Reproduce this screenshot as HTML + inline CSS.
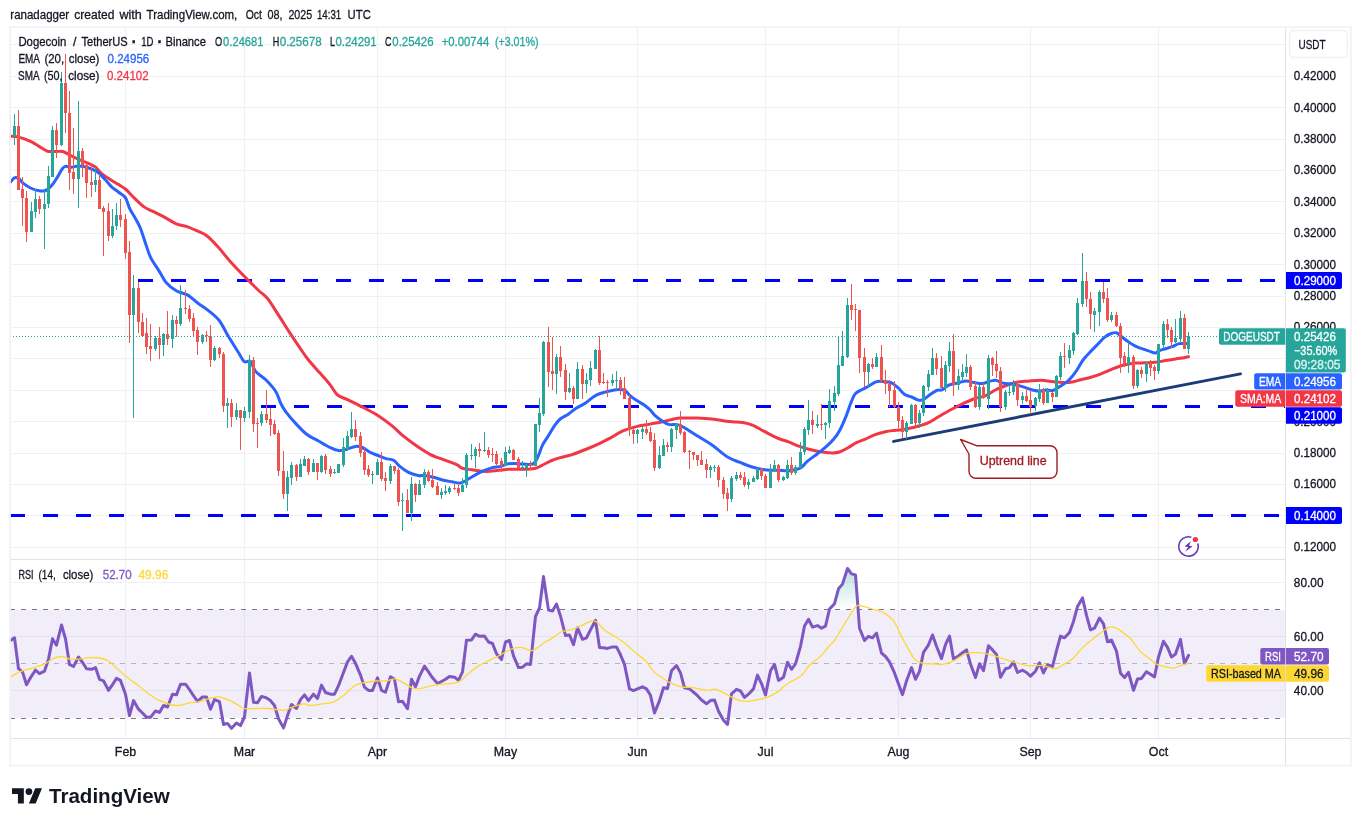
<!DOCTYPE html>
<html lang="en"><head><meta charset="utf-8"><title>DOGEUSDT chart</title>
<style>html,body{margin:0;padding:0;background:#fff;}svg{display:block}</style></head>
<body>
<svg width="1361" height="826" viewBox="0 0 1361 826" font-family='"Liberation Sans", "DejaVu Sans", sans-serif' font-size="12.4" fill="#131722">
<style>text{stroke-width:0.3px}</style>
<rect width="1361" height="826" fill="#fff"/>
<g shape-rendering="crispEdges" stroke="#f0f1f2" stroke-width="1">
<line x1="10" x2="1285" y1="44.5" y2="44.5"/>
<line x1="10" x2="1285" y1="76.5" y2="76.5"/>
<line x1="10" x2="1285" y1="107.5" y2="107.5"/>
<line x1="10" x2="1285" y1="139.5" y2="139.5"/>
<line x1="10" x2="1285" y1="170.5" y2="170.5"/>
<line x1="10" x2="1285" y1="201.5" y2="201.5"/>
<line x1="10" x2="1285" y1="233.5" y2="233.5"/>
<line x1="10" x2="1285" y1="264.5" y2="264.5"/>
<line x1="10" x2="1285" y1="296.5" y2="296.5"/>
<line x1="10" x2="1285" y1="327.5" y2="327.5"/>
<line x1="10" x2="1285" y1="358.5" y2="358.5"/>
<line x1="10" x2="1285" y1="390.5" y2="390.5"/>
<line x1="10" x2="1285" y1="421.5" y2="421.5"/>
<line x1="10" x2="1285" y1="453.5" y2="453.5"/>
<line x1="10" x2="1285" y1="484.5" y2="484.5"/>
<line x1="10" x2="1285" y1="515.5" y2="515.5"/>
<line x1="10" x2="1285" y1="547.5" y2="547.5"/>
<line x1="10" x2="1285" y1="582.5" y2="582.5"/>
<line x1="10" x2="1285" y1="636.5" y2="636.5"/>
<line x1="10" x2="1285" y1="690.5" y2="690.5"/>
<line x1="125.5" x2="125.5" y1="27" y2="738"/>
<line x1="244.5" x2="244.5" y1="27" y2="738"/>
<line x1="377.5" x2="377.5" y1="27" y2="738"/>
<line x1="505.5" x2="505.5" y1="27" y2="738"/>
<line x1="637.5" x2="637.5" y1="27" y2="738"/>
<line x1="765.5" x2="765.5" y1="27" y2="738"/>
<line x1="898.5" x2="898.5" y1="27" y2="738"/>
<line x1="1030.5" x2="1030.5" y1="27" y2="738"/>
<line x1="1158.5" x2="1158.5" y1="27" y2="738"/>
</g>
<rect x="10" y="610" width="1275" height="107.8" fill="#7e57c2" fill-opacity="0.1"/>
<g shape-rendering="crispEdges" fill="none" stroke-width="1" stroke-dasharray="5 6">
<line x1="10" x2="1282" y1="609.5" y2="609.5" stroke="#787b86"/>
<line x1="10" x2="1282" y1="663.5" y2="663.5" stroke="#787b86" stroke-opacity="0.5"/>
<line x1="10" x2="1282" y1="718.5" y2="718.5" stroke="#787b86"/>
</g>
<line x1="138" x2="1285" y1="280.5" y2="280.5" stroke="#0000ff" stroke-width="3" stroke-dasharray="15 18" shape-rendering="crispEdges"/>
<line x1="261" x2="1285" y1="406.5" y2="406.5" stroke="#0000ff" stroke-width="3" stroke-dasharray="15 18" shape-rendering="crispEdges"/>
<line x1="10" x2="1285" y1="515.5" y2="515.5" stroke="#0000ff" stroke-width="3" stroke-dasharray="15 18" shape-rendering="crispEdges"/>
<line x1="893.6" y1="441.4" x2="1240.5" y2="373.9" stroke="#1b3c78" stroke-width="3" stroke-linecap="round"/>
<path d="M10.5 136.3C11.8 136.4 15.3 136.2 18.6 137.1C21.9 137.9 27.1 139.8 30.5 141.4C33.9 143.0 36.2 144.8 39.0 146.4C41.8 148.0 44.7 150.3 47.5 151.2C50.3 152.0 53.4 151.4 55.9 151.5C58.4 151.6 60.4 150.9 62.7 151.5C65.0 152.1 67.0 153.6 69.5 154.9C72.0 156.2 75.2 157.9 78.0 159.2C80.8 160.5 83.6 161.2 86.4 162.5C89.2 163.8 92.4 165.0 94.9 166.8C97.5 168.7 99.2 171.5 101.7 173.6C104.2 175.7 107.4 177.7 110.2 179.5C113.0 181.3 116.1 183.0 118.6 184.6C121.1 186.2 122.9 186.8 125.4 189.0C128.0 191.2 130.8 194.6 133.9 197.6C137.0 200.6 141.0 204.6 144.1 206.9C147.2 209.2 149.1 209.5 152.5 211.2C155.9 212.9 160.4 215.0 164.4 217.1C168.4 219.2 172.6 222.3 176.3 223.9C180.0 225.5 183.0 225.3 186.4 226.4C189.8 227.5 193.2 229.1 196.6 230.7C200.0 232.3 203.1 233.0 206.8 235.8C210.5 238.6 214.7 243.4 218.6 247.6C222.5 251.8 225.8 256.5 230.0 261.2C234.2 265.9 239.3 271.2 244.0 276.0C248.7 280.8 254.2 286.2 258.1 290.0C262.0 293.8 264.2 294.6 267.5 298.5C270.8 302.4 273.9 308.1 277.6 313.7C281.3 319.3 285.8 326.8 289.5 332.4C293.2 338.0 296.6 343.1 299.7 347.6C302.8 352.1 304.7 355.2 308.1 359.5C311.5 363.8 316.3 368.9 320.0 373.1C323.7 377.3 327.3 381.2 330.2 384.9C333.1 388.5 334.5 392.5 337.6 395.0C340.7 397.5 344.5 398.1 348.6 400.1C352.7 402.1 357.4 404.4 362.2 406.9C367.0 409.4 372.4 412.1 377.5 415.3C382.6 418.6 388.5 423.0 392.7 426.4C396.9 429.8 398.9 432.5 402.9 435.7C406.8 438.9 411.9 442.7 416.4 445.8C420.9 448.9 425.5 452.0 430.0 454.3C434.5 456.6 439.1 458.0 443.6 459.7C448.1 461.4 453.8 463.3 456.8 464.7C459.9 466.1 459.4 467.2 461.9 468.1C464.4 469.0 467.8 469.2 472.0 469.8C476.2 470.4 481.4 471.6 487.3 471.5C493.2 471.4 501.7 469.7 507.6 469.3C513.5 468.9 518.4 469.4 522.9 469.3C527.4 469.2 531.6 469.1 534.7 468.5C537.8 467.9 538.7 466.9 541.5 465.6C544.3 464.3 548.6 461.8 551.7 460.5C554.8 459.2 556.8 458.6 560.2 457.6C563.6 456.6 567.8 456.0 572.0 454.6C576.2 453.2 581.1 451.3 585.6 449.5C590.1 447.7 595.0 445.6 599.2 443.6C603.4 441.6 607.0 439.7 611.0 437.6C615.0 435.5 618.7 432.6 622.9 430.8C627.1 429.0 631.9 427.7 636.4 426.6C640.9 425.5 645.5 425.0 650.0 424.1C654.5 423.2 659.6 422.4 663.6 421.5C667.6 420.6 670.9 419.6 673.7 419.0C676.5 418.4 676.3 418.2 680.2 418.1C684.1 418.0 691.5 417.9 697.1 418.1C702.8 418.3 708.7 418.7 714.1 419.3C719.5 419.9 724.5 421.0 729.3 421.5C734.1 422.0 738.9 421.8 742.9 422.4C746.9 423.0 749.4 423.8 753.1 425.4C756.8 426.9 760.7 429.5 764.9 431.7C769.1 433.9 774.5 436.8 778.5 438.5C782.5 440.2 785.2 440.6 788.6 441.9C792.0 443.2 795.4 444.9 798.8 446.1C802.2 447.3 805.0 448.2 809.0 449.2C813.0 450.2 818.5 451.4 822.5 452.0C826.5 452.6 829.9 452.9 832.7 452.9C835.5 452.9 837.0 452.9 839.5 452.0C842.0 451.1 845.2 449.4 848.0 447.8C850.8 446.2 853.6 444.1 856.4 442.7C859.2 441.3 861.8 440.6 864.9 439.3C868.0 438.0 871.7 435.9 875.1 434.6C878.5 433.3 882.2 432.4 885.3 431.7C888.4 431.0 890.9 430.8 893.7 430.5C896.5 430.2 898.6 430.3 902.0 429.8C905.4 429.3 909.6 428.4 913.9 427.3C918.1 426.2 923.3 424.9 927.5 423.1C931.7 421.3 935.3 418.6 939.3 416.3C943.2 414.0 947.2 411.6 951.2 409.5C955.2 407.4 959.2 405.4 963.1 403.6C967.0 401.8 971.2 399.8 974.9 398.5C978.6 397.2 981.7 397.3 985.1 395.9C988.5 394.5 991.9 391.7 995.3 390.0C998.7 388.3 1002.0 387.1 1005.4 385.8C1008.8 384.5 1011.9 383.2 1015.6 382.4C1019.3 381.6 1023.3 381.5 1027.5 381.2C1031.7 380.9 1037.0 380.2 1041.0 380.3C1045.0 380.4 1048.0 381.2 1051.2 381.5C1054.4 381.8 1057.1 382.2 1060.3 382.3C1063.5 382.4 1067.1 382.7 1070.5 382.3C1073.9 381.9 1077.3 380.6 1080.7 379.7C1084.1 378.8 1087.4 378.2 1090.8 377.2C1094.2 376.2 1097.6 375.1 1101.0 373.8C1104.4 372.5 1108.1 370.9 1111.2 369.6C1114.3 368.3 1116.9 367.1 1119.7 366.2C1122.5 365.3 1125.6 364.7 1128.1 364.2C1130.6 363.7 1132.1 363.3 1134.9 363.1C1137.7 362.9 1141.7 362.9 1145.1 362.8C1148.5 362.7 1151.9 362.7 1155.3 362.3C1158.7 361.9 1162.0 361.2 1165.4 360.6C1168.8 360.0 1172.5 359.4 1175.6 358.9C1178.7 358.4 1181.9 358.1 1184.1 357.7C1186.3 357.3 1187.8 356.9 1188.6 356.7" fill="none" stroke="#f23645" stroke-width="3" stroke-linejoin="round" stroke-linecap="round"/>
<path d="M10.5 182.0C11.2 181.3 13.1 178.4 14.4 177.8C15.8 177.2 17.1 177.6 18.6 178.6C20.2 179.6 21.7 182.1 23.7 183.7C25.7 185.3 27.9 186.8 30.5 188.0C33.0 189.2 36.5 190.4 39.0 190.8C41.5 191.2 43.5 191.5 45.8 190.5C48.0 189.5 50.5 186.9 52.5 184.6C54.5 182.3 56.0 179.4 57.6 176.9C59.2 174.4 60.6 171.1 61.9 169.3C63.2 167.6 63.8 166.7 65.3 166.4C66.8 166.1 69.1 167.4 71.2 167.3C73.3 167.2 75.8 166.0 78.0 165.9C80.2 165.8 82.3 166.2 84.7 166.8C87.1 167.4 90.1 168.3 92.4 169.3C94.7 170.3 96.2 171.0 98.3 172.7C100.4 174.4 102.8 177.1 105.1 179.5C107.4 181.9 109.7 185.0 111.9 187.1C114.2 189.2 116.3 190.4 118.6 192.2C120.8 193.9 123.6 194.9 125.4 197.6C127.2 200.3 128.0 205.1 129.7 208.6C131.4 212.1 133.8 215.4 135.6 218.8C137.4 222.2 139.0 224.8 140.7 229.0C142.4 233.2 144.1 239.4 145.8 244.2C147.5 249.0 148.6 253.3 150.8 257.8C153.1 262.3 156.8 267.3 159.3 271.4C161.9 275.5 163.3 279.2 166.1 282.4C168.9 285.6 172.7 288.7 176.3 290.8C179.9 292.9 184.2 293.0 187.8 295.1C191.4 297.2 194.6 300.7 198.0 303.2C201.4 305.7 204.6 307.4 208.1 310.3C211.6 313.2 215.8 316.1 219.2 320.5C222.6 324.9 225.3 331.2 228.5 336.6C231.7 342.0 236.0 348.6 238.6 352.7C241.2 356.8 242.2 360.0 244.2 361.5C246.2 363.0 248.6 359.9 250.5 361.5C252.4 363.1 253.0 368.3 255.6 371.4C258.1 374.4 262.4 376.4 265.8 379.8C269.2 383.2 273.4 387.8 275.9 391.7C278.4 395.6 279.1 400.1 280.8 403.5C282.5 406.9 283.6 408.8 285.9 411.9C288.2 415.0 291.0 418.4 294.4 422.1C297.8 425.8 302.4 430.9 306.3 434.0C310.2 437.1 314.2 438.6 318.1 440.8C322.1 443.1 326.6 445.9 330.0 447.5C333.4 449.1 335.7 450.3 338.5 450.6C341.3 450.9 344.1 449.9 346.9 449.2C349.7 448.5 352.8 446.7 355.4 446.4C357.9 446.1 359.6 446.5 362.2 447.5C364.8 448.5 367.9 451.2 370.7 452.6C373.5 454.0 376.7 455.0 379.2 456.0C381.7 457.0 383.5 457.9 385.9 458.6C388.3 459.3 391.3 459.0 393.6 460.3C395.9 461.6 397.1 464.2 399.5 466.2C401.9 468.2 404.9 470.6 408.0 472.1C411.1 473.7 415.3 474.9 418.1 475.5C420.9 476.1 422.3 475.2 424.9 475.5C427.4 475.8 430.3 476.4 433.4 477.2C436.5 478.0 440.5 479.5 443.6 480.3C446.7 481.1 449.2 481.3 452.0 481.8C454.8 482.3 457.7 483.4 460.2 483.1C462.7 482.8 464.4 481.4 466.9 480.0C469.4 478.6 472.6 476.4 475.4 474.9C478.2 473.3 481.1 471.9 483.9 470.7C486.7 469.5 489.6 468.3 492.4 467.6C495.2 466.9 498.3 467.0 500.8 466.4C503.3 465.8 505.3 464.4 507.6 463.9C509.9 463.4 511.8 463.4 514.4 463.4C516.9 463.4 519.8 463.8 522.9 463.9C526.0 464.0 530.6 465.2 533.1 463.9C535.6 462.6 536.6 459.4 538.1 456.3C539.6 453.2 540.7 448.7 542.4 445.3C544.1 441.9 546.2 439.3 548.3 435.9C550.4 432.5 553.1 427.7 555.1 424.9C557.1 422.1 558.0 420.8 560.2 419.0C562.5 417.2 566.1 415.6 568.6 413.9C571.1 412.2 572.6 410.6 575.4 408.8C578.2 407.0 582.2 405.1 585.6 402.9C589.0 400.6 592.4 397.1 595.8 395.3C599.2 393.5 602.5 392.8 605.9 391.9C609.3 391.0 613.0 390.0 616.1 389.7C619.2 389.4 622.3 389.3 624.6 390.2C626.9 391.1 627.7 393.6 629.7 395.3C631.7 397.0 633.9 398.6 636.4 400.3C638.9 402.0 642.6 403.8 644.9 405.4C647.2 407.0 648.3 408.0 650.0 409.7C651.7 411.4 653.1 413.8 655.1 415.6C657.1 417.4 659.6 419.2 661.9 420.7C664.1 422.2 665.8 423.7 668.6 424.4C671.4 425.1 675.5 424.1 678.5 424.9C681.5 425.7 683.5 427.2 686.9 429.2C690.3 431.2 694.5 434.1 698.8 436.8C703.0 439.5 707.6 441.9 712.4 445.3C717.2 448.7 723.1 454.3 727.6 457.1C732.1 459.9 735.5 460.6 739.5 462.2C743.5 463.8 747.2 465.5 751.4 466.8C755.6 468.1 760.4 469.2 764.9 469.8C769.4 470.4 774.5 470.2 778.5 470.3C782.5 470.4 784.9 471.1 788.6 470.7C792.3 470.3 797.4 469.4 800.5 467.8C803.6 466.2 804.5 463.8 807.3 461.4C810.1 459.0 814.4 456.1 817.5 453.7C820.6 451.3 823.2 449.3 825.9 446.9C828.6 444.5 831.3 442.0 833.6 439.3C835.9 436.6 837.4 434.8 839.5 430.8C841.6 426.9 844.5 420.1 846.3 415.6C848.1 411.1 849.1 407.3 850.5 403.8C851.9 400.3 853.3 396.6 854.7 394.5C856.1 392.4 856.9 392.4 859.0 391.1C861.1 389.8 864.7 388.4 867.5 386.9C870.3 385.3 873.4 382.7 875.9 381.8C878.4 380.9 880.2 381.3 882.7 381.4C885.2 381.5 888.7 381.6 891.2 382.6C893.8 383.7 895.8 385.7 898.0 387.7C900.2 389.7 902.5 392.9 904.7 394.5C907.0 396.1 909.2 396.1 911.5 397.0C913.8 397.9 916.3 399.7 918.3 400.1C920.3 400.5 921.4 400.5 923.4 399.6C925.4 398.7 928.0 396.1 930.2 394.5C932.5 392.9 934.9 391.1 936.9 390.3C938.9 389.5 940.0 390.8 942.0 389.9C944.0 389.0 946.5 386.3 948.8 385.2C951.1 384.1 952.8 384.2 955.6 383.5C958.4 382.8 962.7 381.0 965.8 380.9C968.9 380.8 971.4 382.2 974.2 382.6C977.0 383.0 979.9 383.8 982.7 383.5C985.5 383.2 988.9 381.4 991.2 380.9C993.5 380.4 994.3 380.0 996.3 380.4C998.3 380.8 1000.3 382.5 1003.1 383.1C1005.9 383.8 1009.8 383.7 1013.2 384.3C1016.6 384.9 1020.0 385.9 1023.4 386.9C1026.8 387.9 1030.8 389.6 1033.6 390.3C1036.4 391.0 1038.2 391.2 1040.3 391.1C1042.4 391.1 1044.0 390.1 1046.1 390.0C1048.2 389.9 1050.6 391.1 1052.9 390.5C1055.2 389.9 1057.5 388.0 1059.7 386.6C1062.0 385.2 1064.4 383.9 1066.4 382.4C1068.4 380.8 1069.8 379.3 1071.5 377.3C1073.2 375.3 1074.6 373.5 1076.6 370.5C1078.6 367.5 1081.1 362.6 1083.4 359.5C1085.7 356.4 1088.0 354.3 1090.2 351.9C1092.5 349.5 1094.5 347.5 1096.9 345.1C1099.3 342.7 1102.0 339.3 1104.4 337.4C1106.8 335.5 1109.2 334.3 1111.2 333.5C1113.2 332.7 1114.6 332.3 1116.3 332.8C1118.0 333.3 1119.4 335.0 1121.4 336.5C1123.4 338.0 1125.8 340.1 1128.1 341.6C1130.3 343.2 1132.6 344.6 1134.9 345.8C1137.2 347.0 1139.4 347.9 1141.7 348.7C1144.0 349.5 1146.2 350.2 1148.5 350.9C1150.8 351.6 1153.6 353.1 1155.3 353.1C1157.0 353.1 1156.9 351.6 1158.6 350.9C1160.3 350.2 1163.1 349.4 1165.4 348.7C1167.7 348.0 1169.9 347.5 1172.2 346.7C1174.5 345.9 1176.4 344.1 1179.0 343.6C1181.6 343.1 1186.5 343.6 1188.0 343.6" fill="none" stroke="#2962ff" stroke-width="3" stroke-linejoin="round" stroke-linecap="round"/>
<g shape-rendering="crispEdges">
<rect x="10" y="115" width="1" height="21" fill="#ef5350"/>
<rect x="14.0" y="114" width="1" height="31" fill="#26a69a"/><rect x="13.0" y="126" width="3" height="10" fill="#26a69a"/>
<rect x="18.0" y="110" width="1" height="80" fill="#ef5350"/><rect x="17.0" y="126" width="3" height="64" fill="#ef5350"/>
<rect x="22.0" y="177" width="1" height="49" fill="#ef5350"/><rect x="21.0" y="189" width="3" height="9" fill="#ef5350"/>
<rect x="26.0" y="191" width="1" height="51" fill="#ef5350"/><rect x="25.0" y="198" width="3" height="34" fill="#ef5350"/>
<rect x="31.0" y="202" width="1" height="30" fill="#26a69a"/><rect x="30.0" y="211" width="3" height="21" fill="#26a69a"/>
<rect x="35.0" y="189" width="1" height="29" fill="#26a69a"/><rect x="34.0" y="199" width="3" height="13" fill="#26a69a"/>
<rect x="39.0" y="196" width="1" height="18" fill="#ef5350"/><rect x="38.0" y="199" width="3" height="10" fill="#ef5350"/>
<rect x="44.0" y="190" width="1" height="59" fill="#26a69a"/><rect x="43.0" y="204" width="3" height="5" fill="#26a69a"/>
<rect x="48.0" y="166" width="1" height="42" fill="#26a69a"/><rect x="47.0" y="176" width="3" height="28" fill="#26a69a"/>
<rect x="52.0" y="126" width="1" height="51" fill="#26a69a"/><rect x="51.0" y="130" width="3" height="47" fill="#26a69a"/>
<rect x="56.0" y="123" width="1" height="35" fill="#ef5350"/><rect x="55.0" y="130" width="3" height="15" fill="#ef5350"/>
<rect x="61.0" y="72" width="1" height="74" fill="#26a69a"/><rect x="60.0" y="83" width="3" height="62" fill="#26a69a"/>
<rect x="65.0" y="54" width="1" height="79" fill="#ef5350"/><rect x="64.0" y="83" width="3" height="30" fill="#ef5350"/>
<rect x="69.0" y="91" width="1" height="99" fill="#ef5350"/><rect x="68.0" y="113" width="3" height="60" fill="#ef5350"/>
<rect x="73.0" y="128" width="1" height="66" fill="#ef5350"/><rect x="72.0" y="172" width="3" height="7" fill="#ef5350"/>
<rect x="78.0" y="101" width="1" height="107" fill="#26a69a"/><rect x="77.0" y="151" width="3" height="28" fill="#26a69a"/>
<rect x="82.0" y="148" width="1" height="29" fill="#ef5350"/><rect x="81.0" y="151" width="3" height="14" fill="#ef5350"/>
<rect x="86.0" y="163" width="1" height="35" fill="#ef5350"/><rect x="85.0" y="165" width="3" height="18" fill="#ef5350"/>
<rect x="91.0" y="163" width="1" height="34" fill="#ef5350"/><rect x="90.0" y="182" width="3" height="3" fill="#ef5350"/>
<rect x="95.0" y="167" width="1" height="25" fill="#26a69a"/><rect x="94.0" y="180" width="3" height="5" fill="#26a69a"/>
<rect x="99.0" y="174" width="1" height="35" fill="#ef5350"/><rect x="98.0" y="180" width="3" height="29" fill="#ef5350"/>
<rect x="103.0" y="206" width="1" height="50" fill="#ef5350"/><rect x="102.0" y="208" width="3" height="4" fill="#ef5350"/>
<rect x="108.0" y="203" width="1" height="38" fill="#ef5350"/><rect x="107.0" y="211" width="3" height="25" fill="#ef5350"/>
<rect x="112.0" y="209" width="1" height="29" fill="#26a69a"/><rect x="111.0" y="226" width="3" height="10" fill="#26a69a"/>
<rect x="116.0" y="203" width="1" height="27" fill="#26a69a"/><rect x="115.0" y="215" width="3" height="11" fill="#26a69a"/>
<rect x="120.0" y="199" width="1" height="28" fill="#ef5350"/><rect x="119.0" y="215" width="3" height="5" fill="#ef5350"/>
<rect x="125.0" y="214" width="1" height="45" fill="#ef5350"/><rect x="124.0" y="219" width="3" height="34" fill="#ef5350"/>
<rect x="129.0" y="241" width="1" height="102" fill="#ef5350"/><rect x="128.0" y="252" width="3" height="63" fill="#ef5350"/>
<rect x="133.0" y="275" width="1" height="143" fill="#26a69a"/><rect x="132.0" y="288" width="3" height="27" fill="#26a69a"/>
<rect x="138.0" y="282" width="1" height="51" fill="#ef5350"/><rect x="137.0" y="288" width="3" height="34" fill="#ef5350"/>
<rect x="142.0" y="313" width="1" height="23" fill="#ef5350"/><rect x="141.0" y="322" width="3" height="14" fill="#ef5350"/>
<rect x="146.0" y="318" width="1" height="36" fill="#ef5350"/><rect x="145.0" y="333" width="3" height="14" fill="#ef5350"/>
<rect x="150.0" y="324" width="1" height="37" fill="#ef5350"/><rect x="149.0" y="346" width="3" height="3" fill="#ef5350"/>
<rect x="155.0" y="336" width="1" height="15" fill="#26a69a"/><rect x="154.0" y="338" width="3" height="11" fill="#26a69a"/>
<rect x="159.0" y="327" width="1" height="32" fill="#ef5350"/><rect x="158.0" y="338" width="3" height="7" fill="#ef5350"/>
<rect x="163.0" y="333" width="1" height="23" fill="#26a69a"/><rect x="162.0" y="334" width="3" height="11" fill="#26a69a"/>
<rect x="167.0" y="311" width="1" height="34" fill="#ef5350"/><rect x="166.0" y="334" width="3" height="5" fill="#ef5350"/>
<rect x="172.0" y="315" width="1" height="33" fill="#26a69a"/><rect x="171.0" y="320" width="3" height="19" fill="#26a69a"/>
<rect x="176.0" y="316" width="1" height="21" fill="#ef5350"/><rect x="175.0" y="320" width="3" height="4" fill="#ef5350"/>
<rect x="180.0" y="285" width="1" height="41" fill="#26a69a"/><rect x="179.0" y="308" width="3" height="16" fill="#26a69a"/>
<rect x="185.0" y="290" width="1" height="24" fill="#ef5350"/><rect x="184.0" y="308" width="3" height="1" fill="#ef5350"/>
<rect x="189.0" y="305" width="1" height="17" fill="#ef5350"/><rect x="188.0" y="309" width="3" height="10" fill="#ef5350"/>
<rect x="193.0" y="313" width="1" height="23" fill="#ef5350"/><rect x="192.0" y="318" width="3" height="13" fill="#ef5350"/>
<rect x="197.0" y="327" width="1" height="28" fill="#ef5350"/><rect x="196.0" y="330" width="3" height="12" fill="#ef5350"/>
<rect x="202.0" y="334" width="1" height="10" fill="#26a69a"/><rect x="201.0" y="335" width="3" height="7" fill="#26a69a"/>
<rect x="206.0" y="331" width="1" height="11" fill="#ef5350"/><rect x="205.0" y="335" width="3" height="1" fill="#ef5350"/>
<rect x="210.0" y="325" width="1" height="42" fill="#ef5350"/><rect x="209.0" y="336" width="3" height="24" fill="#ef5350"/>
<rect x="214.0" y="346" width="1" height="15" fill="#26a69a"/><rect x="213.0" y="348" width="3" height="12" fill="#26a69a"/>
<rect x="219.0" y="347" width="1" height="11" fill="#ef5350"/><rect x="218.0" y="348" width="3" height="6" fill="#ef5350"/>
<rect x="223.0" y="352" width="1" height="60" fill="#ef5350"/><rect x="222.0" y="354" width="3" height="52" fill="#ef5350"/>
<rect x="227.0" y="398" width="1" height="30" fill="#26a69a"/><rect x="226.0" y="403" width="3" height="3" fill="#26a69a"/>
<rect x="231.0" y="399" width="1" height="28" fill="#ef5350"/><rect x="230.0" y="403" width="3" height="14" fill="#ef5350"/>
<rect x="236.0" y="403" width="1" height="17" fill="#26a69a"/><rect x="235.0" y="410" width="3" height="7" fill="#26a69a"/>
<rect x="240.0" y="410" width="1" height="40" fill="#ef5350"/><rect x="239.0" y="410" width="3" height="8" fill="#ef5350"/>
<rect x="244.0" y="407" width="1" height="15" fill="#26a69a"/><rect x="243.0" y="411" width="3" height="7" fill="#26a69a"/>
<rect x="249.0" y="355" width="1" height="63" fill="#26a69a"/><rect x="248.0" y="360" width="3" height="52" fill="#26a69a"/>
<rect x="253.0" y="357" width="1" height="75" fill="#ef5350"/><rect x="252.0" y="360" width="3" height="64" fill="#ef5350"/>
<rect x="257.0" y="418" width="1" height="30" fill="#ef5350"/><rect x="256.0" y="423" width="3" height="1" fill="#ef5350"/>
<rect x="261.0" y="411" width="1" height="15" fill="#26a69a"/><rect x="260.0" y="414" width="3" height="9" fill="#26a69a"/>
<rect x="266.0" y="390" width="1" height="33" fill="#ef5350"/><rect x="265.0" y="414" width="3" height="6" fill="#ef5350"/>
<rect x="270.0" y="408" width="1" height="28" fill="#ef5350"/><rect x="269.0" y="419" width="3" height="6" fill="#ef5350"/>
<rect x="274.0" y="420" width="1" height="15" fill="#ef5350"/><rect x="273.0" y="424" width="3" height="10" fill="#ef5350"/>
<rect x="278.0" y="430" width="1" height="46" fill="#ef5350"/><rect x="277.0" y="433" width="3" height="38" fill="#ef5350"/>
<rect x="283.0" y="451" width="1" height="48" fill="#ef5350"/><rect x="282.0" y="471" width="3" height="23" fill="#ef5350"/>
<rect x="287.0" y="471" width="1" height="40" fill="#26a69a"/><rect x="286.0" y="477" width="3" height="17" fill="#26a69a"/>
<rect x="291.0" y="462" width="1" height="23" fill="#26a69a"/><rect x="290.0" y="465" width="3" height="13" fill="#26a69a"/>
<rect x="296.0" y="464" width="1" height="17" fill="#ef5350"/><rect x="295.0" y="465" width="3" height="12" fill="#ef5350"/>
<rect x="300.0" y="459" width="1" height="18" fill="#26a69a"/><rect x="299.0" y="464" width="3" height="13" fill="#26a69a"/>
<rect x="304.0" y="456" width="1" height="10" fill="#26a69a"/><rect x="303.0" y="459" width="3" height="7" fill="#26a69a"/>
<rect x="308.0" y="458" width="1" height="17" fill="#ef5350"/><rect x="307.0" y="459" width="3" height="13" fill="#ef5350"/>
<rect x="313.0" y="459" width="1" height="13" fill="#26a69a"/><rect x="312.0" y="463" width="3" height="9" fill="#26a69a"/>
<rect x="317.0" y="463" width="1" height="17" fill="#ef5350"/><rect x="316.0" y="463" width="3" height="9" fill="#ef5350"/>
<rect x="321.0" y="455" width="1" height="18" fill="#26a69a"/><rect x="320.0" y="456" width="3" height="16" fill="#26a69a"/>
<rect x="325.0" y="454" width="1" height="20" fill="#ef5350"/><rect x="324.0" y="456" width="3" height="14" fill="#ef5350"/>
<rect x="330.0" y="466" width="1" height="11" fill="#ef5350"/><rect x="329.0" y="469" width="3" height="5" fill="#ef5350"/>
<rect x="334.0" y="469" width="1" height="5" fill="#26a69a"/><rect x="333.0" y="472" width="3" height="1" fill="#26a69a"/>
<rect x="338.0" y="464" width="1" height="9" fill="#26a69a"/><rect x="337.0" y="464" width="3" height="9" fill="#26a69a"/>
<rect x="343.0" y="438" width="1" height="29" fill="#26a69a"/><rect x="342.0" y="447" width="3" height="18" fill="#26a69a"/>
<rect x="347.0" y="431" width="1" height="19" fill="#26a69a"/><rect x="346.0" y="436" width="3" height="13" fill="#26a69a"/>
<rect x="351.0" y="412" width="1" height="26" fill="#26a69a"/><rect x="350.0" y="429" width="3" height="8" fill="#26a69a"/>
<rect x="355.0" y="420" width="1" height="21" fill="#ef5350"/><rect x="354.0" y="429" width="3" height="8" fill="#ef5350"/>
<rect x="360.0" y="432" width="1" height="25" fill="#ef5350"/><rect x="359.0" y="436" width="3" height="17" fill="#ef5350"/>
<rect x="364.0" y="448" width="1" height="27" fill="#ef5350"/><rect x="363.0" y="452" width="3" height="18" fill="#ef5350"/>
<rect x="368.0" y="465" width="1" height="12" fill="#ef5350"/><rect x="367.0" y="469" width="3" height="6" fill="#ef5350"/>
<rect x="372.0" y="471" width="1" height="13" fill="#26a69a"/><rect x="371.0" y="474" width="3" height="1" fill="#26a69a"/>
<rect x="377.0" y="459" width="1" height="16" fill="#26a69a"/><rect x="376.0" y="462" width="3" height="13" fill="#26a69a"/>
<rect x="381.0" y="452" width="1" height="29" fill="#ef5350"/><rect x="380.0" y="462" width="3" height="17" fill="#ef5350"/>
<rect x="385.0" y="472" width="1" height="19" fill="#ef5350"/><rect x="384.0" y="478" width="3" height="3" fill="#ef5350"/>
<rect x="390.0" y="464" width="1" height="20" fill="#26a69a"/><rect x="389.0" y="466" width="3" height="15" fill="#26a69a"/>
<rect x="394.0" y="466" width="1" height="8" fill="#ef5350"/><rect x="393.0" y="466" width="3" height="5" fill="#ef5350"/>
<rect x="398.0" y="468" width="1" height="38" fill="#ef5350"/><rect x="397.0" y="470" width="3" height="32" fill="#ef5350"/>
<rect x="402.0" y="493" width="1" height="38" fill="#26a69a"/><rect x="401.0" y="500" width="3" height="1" fill="#26a69a"/>
<rect x="407.0" y="489" width="1" height="24" fill="#ef5350"/><rect x="406.0" y="500" width="3" height="13" fill="#ef5350"/>
<rect x="411.0" y="477" width="1" height="44" fill="#26a69a"/><rect x="410.0" y="484" width="3" height="29" fill="#26a69a"/>
<rect x="415.0" y="483" width="1" height="19" fill="#ef5350"/><rect x="414.0" y="484" width="3" height="11" fill="#ef5350"/>
<rect x="419.0" y="480" width="1" height="15" fill="#26a69a"/><rect x="418.0" y="484" width="3" height="11" fill="#26a69a"/>
<rect x="424.0" y="469" width="1" height="19" fill="#26a69a"/><rect x="423.0" y="472" width="3" height="13" fill="#26a69a"/>
<rect x="428.0" y="470" width="1" height="12" fill="#ef5350"/><rect x="427.0" y="472" width="3" height="9" fill="#ef5350"/>
<rect x="432.0" y="469" width="1" height="19" fill="#ef5350"/><rect x="431.0" y="480" width="3" height="7" fill="#ef5350"/>
<rect x="437.0" y="482" width="1" height="13" fill="#ef5350"/><rect x="436.0" y="486" width="3" height="9" fill="#ef5350"/>
<rect x="441.0" y="488" width="1" height="11" fill="#26a69a"/><rect x="440.0" y="492" width="3" height="3" fill="#26a69a"/>
<rect x="445.0" y="485" width="1" height="10" fill="#26a69a"/><rect x="444.0" y="491" width="3" height="2" fill="#26a69a"/>
<rect x="449.0" y="486" width="1" height="8" fill="#26a69a"/><rect x="448.0" y="488" width="3" height="4" fill="#26a69a"/>
<rect x="454.0" y="484" width="1" height="6" fill="#ef5350"/><rect x="453.0" y="488" width="3" height="1" fill="#ef5350"/>
<rect x="458.0" y="485" width="1" height="11" fill="#ef5350"/><rect x="457.0" y="488" width="3" height="5" fill="#ef5350"/>
<rect x="462.0" y="478" width="1" height="14" fill="#26a69a"/><rect x="461.0" y="485" width="3" height="7" fill="#26a69a"/>
<rect x="466.0" y="453" width="1" height="35" fill="#26a69a"/><rect x="465.0" y="455" width="3" height="30" fill="#26a69a"/>
<rect x="471.0" y="444" width="1" height="16" fill="#26a69a"/><rect x="470.0" y="455" width="3" height="1" fill="#26a69a"/>
<rect x="475.0" y="447" width="1" height="21" fill="#26a69a"/><rect x="474.0" y="449" width="3" height="7" fill="#26a69a"/>
<rect x="479.0" y="443" width="1" height="14" fill="#ef5350"/><rect x="478.0" y="449" width="3" height="2" fill="#ef5350"/>
<rect x="484.0" y="432" width="1" height="20" fill="#26a69a"/><rect x="483.0" y="450" width="3" height="1" fill="#26a69a"/>
<rect x="488.0" y="447" width="1" height="11" fill="#ef5350"/><rect x="487.0" y="450" width="3" height="5" fill="#ef5350"/>
<rect x="492.0" y="448" width="1" height="14" fill="#ef5350"/><rect x="491.0" y="454" width="3" height="1" fill="#ef5350"/>
<rect x="496.0" y="451" width="1" height="14" fill="#ef5350"/><rect x="495.0" y="454" width="3" height="10" fill="#ef5350"/>
<rect x="501.0" y="458" width="1" height="14" fill="#ef5350"/><rect x="500.0" y="461" width="3" height="5" fill="#ef5350"/>
<rect x="505.0" y="447" width="1" height="19" fill="#26a69a"/><rect x="504.0" y="452" width="3" height="14" fill="#26a69a"/>
<rect x="509.0" y="446" width="1" height="8" fill="#26a69a"/><rect x="508.0" y="450" width="3" height="3" fill="#26a69a"/>
<rect x="513.0" y="449" width="1" height="11" fill="#ef5350"/><rect x="512.0" y="450" width="3" height="10" fill="#ef5350"/>
<rect x="518.0" y="457" width="1" height="12" fill="#ef5350"/><rect x="517.0" y="459" width="3" height="9" fill="#ef5350"/>
<rect x="522.0" y="461" width="1" height="10" fill="#26a69a"/><rect x="521.0" y="467" width="3" height="1" fill="#26a69a"/>
<rect x="526.0" y="464" width="1" height="13" fill="#26a69a"/><rect x="525.0" y="465" width="3" height="3" fill="#26a69a"/>
<rect x="530.0" y="461" width="1" height="9" fill="#ef5350"/><rect x="529.0" y="464" width="3" height="2" fill="#ef5350"/>
<rect x="535.0" y="424" width="1" height="42" fill="#26a69a"/><rect x="534.0" y="424" width="3" height="42" fill="#26a69a"/>
<rect x="539.0" y="398" width="1" height="34" fill="#26a69a"/><rect x="538.0" y="413" width="3" height="12" fill="#26a69a"/>
<rect x="543.0" y="341" width="1" height="75" fill="#26a69a"/><rect x="542.0" y="342" width="3" height="72" fill="#26a69a"/>
<rect x="548.0" y="327" width="1" height="60" fill="#ef5350"/><rect x="547.0" y="342" width="3" height="30" fill="#ef5350"/>
<rect x="552.0" y="337" width="1" height="53" fill="#ef5350"/><rect x="551.0" y="371" width="3" height="3" fill="#ef5350"/>
<rect x="556.0" y="354" width="1" height="40" fill="#26a69a"/><rect x="555.0" y="357" width="3" height="17" fill="#26a69a"/>
<rect x="560.0" y="346" width="1" height="31" fill="#ef5350"/><rect x="559.0" y="357" width="3" height="14" fill="#ef5350"/>
<rect x="565.0" y="364" width="1" height="36" fill="#ef5350"/><rect x="564.0" y="370" width="3" height="22" fill="#ef5350"/>
<rect x="569.0" y="373" width="1" height="20" fill="#26a69a"/><rect x="568.0" y="388" width="3" height="4" fill="#26a69a"/>
<rect x="573.0" y="386" width="1" height="18" fill="#ef5350"/><rect x="572.0" y="388" width="3" height="11" fill="#ef5350"/>
<rect x="577.0" y="362" width="1" height="37" fill="#26a69a"/><rect x="576.0" y="369" width="3" height="30" fill="#26a69a"/>
<rect x="582.0" y="365" width="1" height="34" fill="#ef5350"/><rect x="581.0" y="369" width="3" height="15" fill="#ef5350"/>
<rect x="586.0" y="373" width="1" height="20" fill="#26a69a"/><rect x="585.0" y="380" width="3" height="4" fill="#26a69a"/>
<rect x="590.0" y="361" width="1" height="25" fill="#26a69a"/><rect x="589.0" y="368" width="3" height="12" fill="#26a69a"/>
<rect x="595.0" y="349" width="1" height="20" fill="#26a69a"/><rect x="594.0" y="350" width="3" height="19" fill="#26a69a"/>
<rect x="599.0" y="336" width="1" height="49" fill="#ef5350"/><rect x="598.0" y="350" width="3" height="33" fill="#ef5350"/>
<rect x="603.0" y="373" width="1" height="11" fill="#ef5350"/><rect x="602.0" y="382" width="3" height="1" fill="#ef5350"/>
<rect x="607.0" y="380" width="1" height="17" fill="#ef5350"/><rect x="606.0" y="382" width="3" height="1" fill="#ef5350"/>
<rect x="612.0" y="374" width="1" height="12" fill="#26a69a"/><rect x="611.0" y="380" width="3" height="3" fill="#26a69a"/>
<rect x="616.0" y="371" width="1" height="19" fill="#26a69a"/><rect x="615.0" y="380" width="3" height="1" fill="#26a69a"/>
<rect x="620.0" y="377" width="1" height="18" fill="#ef5350"/><rect x="619.0" y="380" width="3" height="9" fill="#ef5350"/>
<rect x="624.0" y="377" width="1" height="22" fill="#ef5350"/><rect x="623.0" y="388" width="3" height="11" fill="#ef5350"/>
<rect x="629.0" y="395" width="1" height="41" fill="#ef5350"/><rect x="628.0" y="398" width="3" height="32" fill="#ef5350"/>
<rect x="633.0" y="429" width="1" height="15" fill="#ef5350"/><rect x="632.0" y="430" width="3" height="4" fill="#ef5350"/>
<rect x="637.0" y="429" width="1" height="14" fill="#26a69a"/><rect x="636.0" y="430" width="3" height="4" fill="#26a69a"/>
<rect x="642.0" y="427" width="1" height="12" fill="#26a69a"/><rect x="641.0" y="429" width="3" height="3" fill="#26a69a"/>
<rect x="646.0" y="420" width="1" height="15" fill="#ef5350"/><rect x="645.0" y="429" width="3" height="4" fill="#ef5350"/>
<rect x="650.0" y="427" width="1" height="15" fill="#ef5350"/><rect x="649.0" y="432" width="3" height="9" fill="#ef5350"/>
<rect x="654.0" y="433" width="1" height="38" fill="#ef5350"/><rect x="653.0" y="440" width="3" height="28" fill="#ef5350"/>
<rect x="659.0" y="446" width="1" height="23" fill="#26a69a"/><rect x="658.0" y="455" width="3" height="13" fill="#26a69a"/>
<rect x="663.0" y="439" width="1" height="17" fill="#26a69a"/><rect x="662.0" y="445" width="3" height="11" fill="#26a69a"/>
<rect x="667.0" y="442" width="1" height="10" fill="#ef5350"/><rect x="666.0" y="445" width="3" height="2" fill="#ef5350"/>
<rect x="671.0" y="428" width="1" height="24" fill="#26a69a"/><rect x="670.0" y="429" width="3" height="18" fill="#26a69a"/>
<rect x="676.0" y="423" width="1" height="16" fill="#26a69a"/><rect x="675.0" y="424" width="3" height="6" fill="#26a69a"/>
<rect x="680.0" y="411" width="1" height="24" fill="#ef5350"/><rect x="679.0" y="424" width="3" height="9" fill="#ef5350"/>
<rect x="684.0" y="431" width="1" height="22" fill="#ef5350"/><rect x="683.0" y="432" width="3" height="20" fill="#ef5350"/>
<rect x="689.0" y="450" width="1" height="19" fill="#ef5350"/><rect x="688.0" y="451" width="3" height="1" fill="#ef5350"/>
<rect x="693.0" y="452" width="1" height="8" fill="#ef5350"/><rect x="692.0" y="452" width="3" height="3" fill="#ef5350"/>
<rect x="697.0" y="455" width="1" height="11" fill="#ef5350"/><rect x="696.0" y="455" width="3" height="5" fill="#ef5350"/>
<rect x="701.0" y="451" width="1" height="14" fill="#ef5350"/><rect x="700.0" y="460" width="3" height="5" fill="#ef5350"/>
<rect x="706.0" y="459" width="1" height="19" fill="#ef5350"/><rect x="705.0" y="464" width="3" height="6" fill="#ef5350"/>
<rect x="710.0" y="465" width="1" height="13" fill="#26a69a"/><rect x="709.0" y="467" width="3" height="3" fill="#26a69a"/>
<rect x="714.0" y="465" width="1" height="7" fill="#26a69a"/><rect x="713.0" y="467" width="3" height="1" fill="#26a69a"/>
<rect x="718.0" y="465" width="1" height="22" fill="#ef5350"/><rect x="717.0" y="467" width="3" height="13" fill="#ef5350"/>
<rect x="723.0" y="477" width="1" height="22" fill="#ef5350"/><rect x="722.0" y="480" width="3" height="14" fill="#ef5350"/>
<rect x="727.0" y="488" width="1" height="23" fill="#ef5350"/><rect x="726.0" y="493" width="3" height="6" fill="#ef5350"/>
<rect x="731.0" y="476" width="1" height="26" fill="#26a69a"/><rect x="730.0" y="478" width="3" height="21" fill="#26a69a"/>
<rect x="736.0" y="472" width="1" height="9" fill="#26a69a"/><rect x="735.0" y="475" width="3" height="4" fill="#26a69a"/>
<rect x="740.0" y="472" width="1" height="8" fill="#ef5350"/><rect x="739.0" y="475" width="3" height="3" fill="#ef5350"/>
<rect x="744.0" y="472" width="1" height="15" fill="#ef5350"/><rect x="743.0" y="477" width="3" height="8" fill="#ef5350"/>
<rect x="748.0" y="479" width="1" height="10" fill="#26a69a"/><rect x="747.0" y="482" width="3" height="3" fill="#26a69a"/>
<rect x="753.0" y="476" width="1" height="6" fill="#26a69a"/><rect x="752.0" y="478" width="3" height="4" fill="#26a69a"/>
<rect x="757.0" y="468" width="1" height="12" fill="#26a69a"/><rect x="756.0" y="469" width="3" height="10" fill="#26a69a"/>
<rect x="761.0" y="468" width="1" height="12" fill="#ef5350"/><rect x="760.0" y="469" width="3" height="7" fill="#ef5350"/>
<rect x="765.0" y="474" width="1" height="14" fill="#ef5350"/><rect x="764.0" y="476" width="3" height="12" fill="#ef5350"/>
<rect x="770.0" y="464" width="1" height="24" fill="#26a69a"/><rect x="769.0" y="470" width="3" height="18" fill="#26a69a"/>
<rect x="774.0" y="460" width="1" height="12" fill="#26a69a"/><rect x="773.0" y="465" width="3" height="6" fill="#26a69a"/>
<rect x="778.0" y="464" width="1" height="18" fill="#ef5350"/><rect x="777.0" y="465" width="3" height="15" fill="#ef5350"/>
<rect x="783.0" y="476" width="1" height="5" fill="#26a69a"/><rect x="782.0" y="477" width="3" height="3" fill="#26a69a"/>
<rect x="787.0" y="460" width="1" height="19" fill="#26a69a"/><rect x="786.0" y="465" width="3" height="13" fill="#26a69a"/>
<rect x="791.0" y="457" width="1" height="18" fill="#ef5350"/><rect x="790.0" y="465" width="3" height="8" fill="#ef5350"/>
<rect x="795.0" y="465" width="1" height="10" fill="#26a69a"/><rect x="794.0" y="467" width="3" height="6" fill="#26a69a"/>
<rect x="800.0" y="442" width="1" height="26" fill="#26a69a"/><rect x="799.0" y="452" width="3" height="16" fill="#26a69a"/>
<rect x="804.0" y="427" width="1" height="28" fill="#26a69a"/><rect x="803.0" y="429" width="3" height="23" fill="#26a69a"/>
<rect x="808.0" y="400" width="1" height="35" fill="#26a69a"/><rect x="807.0" y="420" width="3" height="10" fill="#26a69a"/>
<rect x="812.0" y="411" width="1" height="23" fill="#ef5350"/><rect x="811.0" y="420" width="3" height="5" fill="#ef5350"/>
<rect x="817.0" y="415" width="1" height="13" fill="#26a69a"/><rect x="816.0" y="424" width="3" height="2" fill="#26a69a"/>
<rect x="821.0" y="404" width="1" height="26" fill="#ef5350"/><rect x="820.0" y="424" width="3" height="1" fill="#ef5350"/>
<rect x="825.0" y="422" width="1" height="17" fill="#26a69a"/><rect x="824.0" y="423" width="3" height="2" fill="#26a69a"/>
<rect x="829.0" y="389" width="1" height="39" fill="#26a69a"/><rect x="828.0" y="401" width="3" height="22" fill="#26a69a"/>
<rect x="834.0" y="386" width="1" height="25" fill="#26a69a"/><rect x="833.0" y="393" width="3" height="9" fill="#26a69a"/>
<rect x="838.0" y="336" width="1" height="60" fill="#26a69a"/><rect x="837.0" y="365" width="3" height="29" fill="#26a69a"/>
<rect x="842.0" y="331" width="1" height="35" fill="#26a69a"/><rect x="841.0" y="356" width="3" height="10" fill="#26a69a"/>
<rect x="847.0" y="298" width="1" height="60" fill="#26a69a"/><rect x="846.0" y="305" width="3" height="52" fill="#26a69a"/>
<rect x="851.0" y="284" width="1" height="36" fill="#ef5350"/><rect x="850.0" y="305" width="3" height="5" fill="#ef5350"/>
<rect x="855.0" y="304" width="1" height="27" fill="#ef5350"/><rect x="854.0" y="309" width="3" height="1" fill="#ef5350"/>
<rect x="859.0" y="310" width="1" height="63" fill="#ef5350"/><rect x="858.0" y="310" width="3" height="48" fill="#ef5350"/>
<rect x="864.0" y="348" width="1" height="39" fill="#ef5350"/><rect x="863.0" y="357" width="3" height="15" fill="#ef5350"/>
<rect x="868.0" y="363" width="1" height="25" fill="#26a69a"/><rect x="867.0" y="364" width="3" height="8" fill="#26a69a"/>
<rect x="872.0" y="358" width="1" height="11" fill="#ef5350"/><rect x="871.0" y="364" width="3" height="3" fill="#ef5350"/>
<rect x="876.0" y="353" width="1" height="14" fill="#26a69a"/><rect x="875.0" y="357" width="3" height="10" fill="#26a69a"/>
<rect x="881.0" y="345" width="1" height="38" fill="#ef5350"/><rect x="880.0" y="357" width="3" height="24" fill="#ef5350"/>
<rect x="885.0" y="370" width="1" height="24" fill="#ef5350"/><rect x="884.0" y="380" width="3" height="4" fill="#ef5350"/>
<rect x="889.0" y="380" width="1" height="27" fill="#ef5350"/><rect x="888.0" y="384" width="3" height="7" fill="#ef5350"/>
<rect x="894.0" y="381" width="1" height="27" fill="#ef5350"/><rect x="893.0" y="390" width="3" height="17" fill="#ef5350"/>
<rect x="898.0" y="402" width="1" height="26" fill="#ef5350"/><rect x="897.0" y="407" width="3" height="14" fill="#ef5350"/>
<rect x="902.0" y="416" width="1" height="22" fill="#ef5350"/><rect x="901.0" y="420" width="3" height="12" fill="#ef5350"/>
<rect x="906.0" y="421" width="1" height="18" fill="#26a69a"/><rect x="905.0" y="423" width="3" height="9" fill="#26a69a"/>
<rect x="911.0" y="404" width="1" height="20" fill="#26a69a"/><rect x="910.0" y="405" width="3" height="19" fill="#26a69a"/>
<rect x="915.0" y="404" width="1" height="22" fill="#ef5350"/><rect x="914.0" y="405" width="3" height="18" fill="#ef5350"/>
<rect x="919.0" y="410" width="1" height="18" fill="#26a69a"/><rect x="918.0" y="413" width="3" height="10" fill="#26a69a"/>
<rect x="923.0" y="385" width="1" height="31" fill="#26a69a"/><rect x="922.0" y="386" width="3" height="27" fill="#26a69a"/>
<rect x="928.0" y="370" width="1" height="21" fill="#26a69a"/><rect x="927.0" y="374" width="3" height="13" fill="#26a69a"/>
<rect x="932.0" y="348" width="1" height="27" fill="#26a69a"/><rect x="931.0" y="358" width="3" height="17" fill="#26a69a"/>
<rect x="936.0" y="353" width="1" height="22" fill="#ef5350"/><rect x="935.0" y="358" width="3" height="11" fill="#ef5350"/>
<rect x="941.0" y="356" width="1" height="32" fill="#ef5350"/><rect x="940.0" y="368" width="3" height="20" fill="#ef5350"/>
<rect x="945.0" y="361" width="1" height="31" fill="#26a69a"/><rect x="944.0" y="365" width="3" height="23" fill="#26a69a"/>
<rect x="949.0" y="342" width="1" height="30" fill="#26a69a"/><rect x="948.0" y="351" width="3" height="15" fill="#26a69a"/>
<rect x="953.0" y="334" width="1" height="62" fill="#ef5350"/><rect x="952.0" y="351" width="3" height="34" fill="#ef5350"/>
<rect x="958.0" y="369" width="1" height="21" fill="#26a69a"/><rect x="957.0" y="376" width="3" height="9" fill="#26a69a"/>
<rect x="962.0" y="364" width="1" height="17" fill="#26a69a"/><rect x="961.0" y="372" width="3" height="5" fill="#26a69a"/>
<rect x="966.0" y="354" width="1" height="23" fill="#26a69a"/><rect x="965.0" y="367" width="3" height="6" fill="#26a69a"/>
<rect x="970.0" y="365" width="1" height="25" fill="#ef5350"/><rect x="969.0" y="367" width="3" height="20" fill="#ef5350"/>
<rect x="975.0" y="381" width="1" height="27" fill="#ef5350"/><rect x="974.0" y="386" width="3" height="21" fill="#ef5350"/>
<rect x="979.0" y="385" width="1" height="25" fill="#26a69a"/><rect x="978.0" y="387" width="3" height="20" fill="#26a69a"/>
<rect x="983.0" y="383" width="1" height="16" fill="#ef5350"/><rect x="982.0" y="387" width="3" height="11" fill="#ef5350"/>
<rect x="988.0" y="355" width="1" height="54" fill="#26a69a"/><rect x="987.0" y="358" width="3" height="41" fill="#26a69a"/>
<rect x="992.0" y="357" width="1" height="19" fill="#ef5350"/><rect x="991.0" y="358" width="3" height="7" fill="#ef5350"/>
<rect x="996.0" y="351" width="1" height="27" fill="#ef5350"/><rect x="995.0" y="364" width="3" height="7" fill="#ef5350"/>
<rect x="1000.0" y="367" width="1" height="45" fill="#ef5350"/><rect x="999.0" y="371" width="3" height="36" fill="#ef5350"/>
<rect x="1005.0" y="390" width="1" height="20" fill="#26a69a"/><rect x="1004.0" y="392" width="3" height="15" fill="#26a69a"/>
<rect x="1009.0" y="385" width="1" height="11" fill="#26a69a"/><rect x="1008.0" y="392" width="3" height="1" fill="#26a69a"/>
<rect x="1013.0" y="380" width="1" height="15" fill="#26a69a"/><rect x="1012.0" y="384" width="3" height="8" fill="#26a69a"/>
<rect x="1017.0" y="381" width="1" height="25" fill="#ef5350"/><rect x="1016.0" y="384" width="3" height="16" fill="#ef5350"/>
<rect x="1022.0" y="392" width="1" height="12" fill="#26a69a"/><rect x="1021.0" y="396" width="3" height="4" fill="#26a69a"/>
<rect x="1026.0" y="388" width="1" height="14" fill="#ef5350"/><rect x="1025.0" y="396" width="3" height="5" fill="#ef5350"/>
<rect x="1030.0" y="390" width="1" height="24" fill="#ef5350"/><rect x="1029.0" y="400" width="3" height="7" fill="#ef5350"/>
<rect x="1035.0" y="397" width="1" height="14" fill="#26a69a"/><rect x="1034.0" y="398" width="3" height="8" fill="#26a69a"/>
<rect x="1039.0" y="384" width="1" height="18" fill="#26a69a"/><rect x="1038.0" y="390" width="3" height="9" fill="#26a69a"/>
<rect x="1043.0" y="388" width="1" height="17" fill="#ef5350"/><rect x="1042.0" y="390" width="3" height="13" fill="#ef5350"/>
<rect x="1047.0" y="388" width="1" height="15" fill="#26a69a"/><rect x="1046.0" y="390" width="3" height="13" fill="#26a69a"/>
<rect x="1052.0" y="392" width="1" height="10" fill="#ef5350"/><rect x="1051.0" y="393" width="3" height="4" fill="#ef5350"/>
<rect x="1056.0" y="375" width="1" height="22" fill="#26a69a"/><rect x="1055.0" y="376" width="3" height="21" fill="#26a69a"/>
<rect x="1060.0" y="352" width="1" height="28" fill="#26a69a"/><rect x="1059.0" y="356" width="3" height="21" fill="#26a69a"/>
<rect x="1064.0" y="343" width="1" height="25" fill="#ef5350"/><rect x="1063.0" y="356" width="3" height="1" fill="#ef5350"/>
<rect x="1069.0" y="345" width="1" height="19" fill="#26a69a"/><rect x="1068.0" y="350" width="3" height="8" fill="#26a69a"/>
<rect x="1073.0" y="332" width="1" height="23" fill="#26a69a"/><rect x="1072.0" y="333" width="3" height="18" fill="#26a69a"/>
<rect x="1077.0" y="298" width="1" height="37" fill="#26a69a"/><rect x="1076.0" y="303" width="3" height="31" fill="#26a69a"/>
<rect x="1082.0" y="253" width="1" height="54" fill="#26a69a"/><rect x="1081.0" y="281" width="3" height="23" fill="#26a69a"/>
<rect x="1086.0" y="272" width="1" height="35" fill="#ef5350"/><rect x="1085.0" y="281" width="3" height="18" fill="#ef5350"/>
<rect x="1090.0" y="292" width="1" height="37" fill="#ef5350"/><rect x="1089.0" y="299" width="3" height="15" fill="#ef5350"/>
<rect x="1094.0" y="308" width="1" height="24" fill="#26a69a"/><rect x="1093.0" y="311" width="3" height="4" fill="#26a69a"/>
<rect x="1099.0" y="290" width="1" height="36" fill="#26a69a"/><rect x="1098.0" y="292" width="3" height="20" fill="#26a69a"/>
<rect x="1103.0" y="282" width="1" height="21" fill="#ef5350"/><rect x="1102.0" y="292" width="3" height="7" fill="#ef5350"/>
<rect x="1107.0" y="288" width="1" height="34" fill="#ef5350"/><rect x="1106.0" y="298" width="3" height="22" fill="#ef5350"/>
<rect x="1111.0" y="312" width="1" height="10" fill="#26a69a"/><rect x="1110.0" y="315" width="3" height="5" fill="#26a69a"/>
<rect x="1116.0" y="312" width="1" height="15" fill="#ef5350"/><rect x="1115.0" y="315" width="3" height="11" fill="#ef5350"/>
<rect x="1120.0" y="323" width="1" height="50" fill="#ef5350"/><rect x="1119.0" y="326" width="3" height="32" fill="#ef5350"/>
<rect x="1124.0" y="352" width="1" height="15" fill="#ef5350"/><rect x="1123.0" y="356" width="3" height="8" fill="#ef5350"/>
<rect x="1128.0" y="342" width="1" height="31" fill="#26a69a"/><rect x="1127.0" y="357" width="3" height="7" fill="#26a69a"/>
<rect x="1133.0" y="355" width="1" height="34" fill="#ef5350"/><rect x="1132.0" y="357" width="3" height="29" fill="#ef5350"/>
<rect x="1137.0" y="369" width="1" height="19" fill="#26a69a"/><rect x="1136.0" y="370" width="3" height="16" fill="#26a69a"/>
<rect x="1141.0" y="367" width="1" height="11" fill="#ef5350"/><rect x="1140.0" y="370" width="3" height="4" fill="#ef5350"/>
<rect x="1146.0" y="362" width="1" height="20" fill="#26a69a"/><rect x="1145.0" y="363" width="3" height="11" fill="#26a69a"/>
<rect x="1150.0" y="360" width="1" height="16" fill="#ef5350"/><rect x="1149.0" y="363" width="3" height="5" fill="#ef5350"/>
<rect x="1154.0" y="365" width="1" height="15" fill="#ef5350"/><rect x="1153.0" y="367" width="3" height="4" fill="#ef5350"/>
<rect x="1158.0" y="344" width="1" height="30" fill="#26a69a"/><rect x="1157.0" y="344" width="3" height="27" fill="#26a69a"/>
<rect x="1163.0" y="321" width="1" height="27" fill="#26a69a"/><rect x="1162.0" y="324" width="3" height="21" fill="#26a69a"/>
<rect x="1167.0" y="319" width="1" height="19" fill="#ef5350"/><rect x="1166.0" y="324" width="3" height="6" fill="#ef5350"/>
<rect x="1171.0" y="327" width="1" height="21" fill="#ef5350"/><rect x="1170.0" y="330" width="3" height="12" fill="#ef5350"/>
<rect x="1175.0" y="319" width="1" height="24" fill="#26a69a"/><rect x="1174.0" y="338" width="3" height="4" fill="#26a69a"/>
<rect x="1180.0" y="311" width="1" height="32" fill="#26a69a"/><rect x="1179.0" y="318" width="3" height="21" fill="#26a69a"/>
<rect x="1184.0" y="314" width="1" height="35" fill="#ef5350"/><rect x="1183.0" y="318" width="3" height="31" fill="#ef5350"/>
<rect x="1188.0" y="332" width="1" height="22" fill="#26a69a"/><rect x="1187.0" y="336" width="3" height="13" fill="#26a69a"/>
</g>
<line x1="10" x2="1285" y1="336.5" y2="336.5" stroke="#26a69a" stroke-width="1" stroke-dasharray="1 2" shape-rendering="crispEdges"/>
<path d="M976.5 445.7 H1050 a7 7 0 0 1 7 7 V471.3 a7 7 0 0 1 -7 7 H976 a7 7 0 0 1 -7 -7 V454 L960.6 439.5 Z" fill="#fff" fill-opacity="0.8" stroke="#a11a22" stroke-width="1.4" stroke-linejoin="round"/>
<text x="979.7" y="464.6" fill="#a11a22" font-size="12" textLength="67" lengthAdjust="spacingAndGlyphs" stroke="#a11a22">Uptrend line</text>
<defs><linearGradient id="ob" gradientUnits="userSpaceOnUse" x1="0" y1="528" x2="0" y2="609.5"><stop offset="0" stop-color="#26a69a" stop-opacity="0.65"/><stop offset="1" stop-color="#26a69a" stop-opacity="0"/></linearGradient><clipPath id="obc"><rect x="10" y="560" width="1275" height="49.5"/></clipPath></defs>
<polygon points="10,609.5 10.5,640.5 14.5,637.8 18.5,668.7 22.5,671.9 26.5,684.7 31.5,676.1 35.5,670.2 39.5,673.6 44.5,671.2 48.5,659.1 52.5,638.8 56.5,645.2 61.5,625.0 65.5,638.8 69.5,664.4 73.5,666.5 78.5,657.0 82.5,662.3 86.5,668.7 91.5,669.3 95.5,667.6 99.5,679.3 103.5,680.8 108.5,690.4 112.5,684.7 116.5,678.3 120.5,680.4 125.5,694.2 129.5,715.6 133.5,700.6 138.5,709.2 142.5,713.0 146.5,717.3 150.5,717.3 155.5,710.9 159.5,712.4 163.5,705.5 167.5,707.0 172.5,694.2 176.5,694.7 180.5,684.2 185.5,684.2 189.5,689.6 193.5,695.7 197.5,701.3 202.5,697.0 206.5,697.0 210.5,709.2 214.5,699.6 219.5,701.7 223.5,724.5 227.5,723.4 231.5,728.3 236.5,723.0 240.5,725.6 244.5,716.6 249.5,672.9 253.5,702.3 257.5,702.8 261.5,696.4 266.5,697.9 270.5,700.6 274.5,705.5 278.5,718.7 283.5,727.9 287.5,715.6 291.5,704.5 296.5,708.5 300.5,699.6 304.5,694.9 308.5,700.6 313.5,694.2 317.5,698.5 321.5,685.1 325.5,692.5 330.5,694.2 334.5,694.2 338.5,685.7 343.5,672.5 347.5,661.9 351.5,656.3 355.5,663.3 360.5,675.1 364.5,687.2 368.5,690.4 372.5,690.4 377.5,677.8 381.5,690.4 385.5,692.1 390.5,676.8 394.5,679.3 398.5,701.7 402.5,701.3 407.5,708.7 411.5,679.3 415.5,686.8 419.5,676.1 424.5,666.1 428.5,671.9 432.5,677.8 437.5,683.6 441.5,681.5 445.5,679.3 449.5,676.6 454.5,677.2 458.5,680.4 462.5,671.9 466.5,640.3 471.5,639.9 475.5,634.2 479.5,636.3 484.5,636.1 488.5,642.0 492.5,643.5 496.5,653.8 501.5,659.5 505.5,642.0 509.5,640.5 513.5,655.9 518.5,667.6 522.5,667.2 526.5,663.8 530.5,664.4 535.5,616.5 539.5,607.9 543.5,576.6 548.5,610.1 552.5,611.1 556.5,604.1 560.5,616.0 565.5,635.6 569.5,635.0 573.5,644.6 577.5,627.8 582.5,639.3 586.5,637.8 590.5,629.9 595.5,620.3 599.5,647.4 603.5,647.8 607.5,648.4 612.5,646.9 616.5,646.9 620.5,654.8 624.5,664.4 629.5,688.9 633.5,690.6 637.5,688.9 642.5,686.8 646.5,688.9 650.5,695.3 654.5,713.0 659.5,700.6 663.5,687.8 667.5,688.5 671.5,670.8 676.5,665.5 680.5,672.9 684.5,687.8 689.5,688.9 693.5,692.1 697.5,695.7 701.5,700.0 706.5,703.8 710.5,700.6 714.5,700.0 718.5,711.3 723.5,720.2 727.5,724.5 731.5,693.8 736.5,689.3 740.5,691.0 744.5,697.4 748.5,694.2 753.5,688.9 757.5,675.1 761.5,683.6 765.5,694.9 770.5,670.8 774.5,664.4 778.5,680.4 783.5,677.2 787.5,662.3 791.5,669.3 795.5,663.8 800.5,646.3 804.5,626.1 808.5,619.2 812.5,627.1 817.5,625.6 821.5,628.2 825.5,626.1 829.5,609.0 834.5,603.7 838.5,588.8 842.5,584.1 847.5,568.5 851.5,573.9 855.5,574.9 859.5,628.2 864.5,640.5 868.5,636.3 872.5,637.8 876.5,633.1 881.5,653.1 885.5,656.5 889.5,661.9 894.5,672.9 898.5,684.0 902.5,694.7 906.5,681.0 911.5,667.6 915.5,679.3 919.5,671.4 923.5,652.3 928.5,644.8 932.5,635.0 936.5,646.3 941.5,658.7 945.5,644.6 949.5,636.1 953.5,659.1 958.5,655.9 962.5,652.7 966.5,649.9 970.5,664.0 975.5,677.6 979.5,663.8 983.5,670.8 988.5,645.7 992.5,649.9 996.5,654.4 1000.5,677.2 1005.5,668.7 1009.5,667.6 1013.5,661.9 1017.5,672.5 1022.5,670.2 1026.5,672.5 1030.5,676.1 1035.5,671.2 1039.5,662.9 1043.5,672.9 1047.5,664.8 1052.5,666.5 1056.5,650.6 1060.5,636.1 1064.5,637.8 1069.5,632.5 1073.5,621.4 1077.5,606.5 1082.5,597.9 1086.5,615.4 1090.5,629.9 1094.5,628.2 1099.5,618.0 1103.5,623.9 1107.5,641.7 1111.5,640.1 1116.5,651.2 1120.5,673.2 1124.5,677.6 1128.5,672.3 1133.5,690.4 1137.5,679.0 1141.5,678.4 1146.5,671.7 1150.5,674.2 1154.5,677.0 1158.5,657.0 1163.5,641.3 1167.5,647.4 1171.5,657.0 1175.5,654.1 1180.5,639.4 1184.5,663.7 1188.5,655.4 1188.5,609.5" fill="url(#ob)" clip-path="url(#obc)"/>
<polyline points="10.5,640.5 14.5,637.8 18.5,668.7 22.5,671.9 26.5,684.7 31.5,676.1 35.5,670.2 39.5,673.6 44.5,671.2 48.5,659.1 52.5,638.8 56.5,645.2 61.5,625.0 65.5,638.8 69.5,664.4 73.5,666.5 78.5,657.0 82.5,662.3 86.5,668.7 91.5,669.3 95.5,667.6 99.5,679.3 103.5,680.8 108.5,690.4 112.5,684.7 116.5,678.3 120.5,680.4 125.5,694.2 129.5,715.6 133.5,700.6 138.5,709.2 142.5,713.0 146.5,717.3 150.5,717.3 155.5,710.9 159.5,712.4 163.5,705.5 167.5,707.0 172.5,694.2 176.5,694.7 180.5,684.2 185.5,684.2 189.5,689.6 193.5,695.7 197.5,701.3 202.5,697.0 206.5,697.0 210.5,709.2 214.5,699.6 219.5,701.7 223.5,724.5 227.5,723.4 231.5,728.3 236.5,723.0 240.5,725.6 244.5,716.6 249.5,672.9 253.5,702.3 257.5,702.8 261.5,696.4 266.5,697.9 270.5,700.6 274.5,705.5 278.5,718.7 283.5,727.9 287.5,715.6 291.5,704.5 296.5,708.5 300.5,699.6 304.5,694.9 308.5,700.6 313.5,694.2 317.5,698.5 321.5,685.1 325.5,692.5 330.5,694.2 334.5,694.2 338.5,685.7 343.5,672.5 347.5,661.9 351.5,656.3 355.5,663.3 360.5,675.1 364.5,687.2 368.5,690.4 372.5,690.4 377.5,677.8 381.5,690.4 385.5,692.1 390.5,676.8 394.5,679.3 398.5,701.7 402.5,701.3 407.5,708.7 411.5,679.3 415.5,686.8 419.5,676.1 424.5,666.1 428.5,671.9 432.5,677.8 437.5,683.6 441.5,681.5 445.5,679.3 449.5,676.6 454.5,677.2 458.5,680.4 462.5,671.9 466.5,640.3 471.5,639.9 475.5,634.2 479.5,636.3 484.5,636.1 488.5,642.0 492.5,643.5 496.5,653.8 501.5,659.5 505.5,642.0 509.5,640.5 513.5,655.9 518.5,667.6 522.5,667.2 526.5,663.8 530.5,664.4 535.5,616.5 539.5,607.9 543.5,576.6 548.5,610.1 552.5,611.1 556.5,604.1 560.5,616.0 565.5,635.6 569.5,635.0 573.5,644.6 577.5,627.8 582.5,639.3 586.5,637.8 590.5,629.9 595.5,620.3 599.5,647.4 603.5,647.8 607.5,648.4 612.5,646.9 616.5,646.9 620.5,654.8 624.5,664.4 629.5,688.9 633.5,690.6 637.5,688.9 642.5,686.8 646.5,688.9 650.5,695.3 654.5,713.0 659.5,700.6 663.5,687.8 667.5,688.5 671.5,670.8 676.5,665.5 680.5,672.9 684.5,687.8 689.5,688.9 693.5,692.1 697.5,695.7 701.5,700.0 706.5,703.8 710.5,700.6 714.5,700.0 718.5,711.3 723.5,720.2 727.5,724.5 731.5,693.8 736.5,689.3 740.5,691.0 744.5,697.4 748.5,694.2 753.5,688.9 757.5,675.1 761.5,683.6 765.5,694.9 770.5,670.8 774.5,664.4 778.5,680.4 783.5,677.2 787.5,662.3 791.5,669.3 795.5,663.8 800.5,646.3 804.5,626.1 808.5,619.2 812.5,627.1 817.5,625.6 821.5,628.2 825.5,626.1 829.5,609.0 834.5,603.7 838.5,588.8 842.5,584.1 847.5,568.5 851.5,573.9 855.5,574.9 859.5,628.2 864.5,640.5 868.5,636.3 872.5,637.8 876.5,633.1 881.5,653.1 885.5,656.5 889.5,661.9 894.5,672.9 898.5,684.0 902.5,694.7 906.5,681.0 911.5,667.6 915.5,679.3 919.5,671.4 923.5,652.3 928.5,644.8 932.5,635.0 936.5,646.3 941.5,658.7 945.5,644.6 949.5,636.1 953.5,659.1 958.5,655.9 962.5,652.7 966.5,649.9 970.5,664.0 975.5,677.6 979.5,663.8 983.5,670.8 988.5,645.7 992.5,649.9 996.5,654.4 1000.5,677.2 1005.5,668.7 1009.5,667.6 1013.5,661.9 1017.5,672.5 1022.5,670.2 1026.5,672.5 1030.5,676.1 1035.5,671.2 1039.5,662.9 1043.5,672.9 1047.5,664.8 1052.5,666.5 1056.5,650.6 1060.5,636.1 1064.5,637.8 1069.5,632.5 1073.5,621.4 1077.5,606.5 1082.5,597.9 1086.5,615.4 1090.5,629.9 1094.5,628.2 1099.5,618.0 1103.5,623.9 1107.5,641.7 1111.5,640.1 1116.5,651.2 1120.5,673.2 1124.5,677.6 1128.5,672.3 1133.5,690.4 1137.5,679.0 1141.5,678.4 1146.5,671.7 1150.5,674.2 1154.5,677.0 1158.5,657.0 1163.5,641.3 1167.5,647.4 1171.5,657.0 1175.5,654.1 1180.5,639.4 1184.5,663.7 1188.5,655.4" fill="none" stroke="#7e57c2" stroke-width="3" stroke-linejoin="round" stroke-linecap="round" />
<path d="M10.7 676.8C12.5 675.9 17.8 672.6 21.3 671.2C24.9 669.8 28.1 669.4 32.0 668.2C35.9 667.0 41.2 665.4 44.7 663.8C48.2 662.2 50.4 659.6 53.3 658.4C56.1 657.2 59.0 656.4 61.8 656.5C64.6 656.6 67.5 658.7 70.3 659.1C73.1 659.5 75.6 659.4 78.8 659.1C82.0 658.9 86.0 657.8 89.5 657.6C93.0 657.4 96.9 657.4 100.1 658.0C103.3 658.6 105.8 659.4 108.7 661.2C111.6 663.0 114.0 665.9 117.2 668.7C120.4 671.5 124.2 675.0 127.8 677.8C131.3 680.6 134.9 683.0 138.5 685.7C142.1 688.4 145.6 691.7 149.2 694.2C152.8 696.7 156.2 698.9 159.8 700.6C163.4 702.3 167.3 703.7 170.5 704.5C173.7 705.3 175.8 705.8 179.0 705.5C182.2 705.2 186.0 703.5 189.6 702.8C193.2 702.1 196.7 702.1 200.3 701.3C203.9 700.5 207.8 698.8 211.0 698.1C214.2 697.4 216.3 696.6 219.5 697.0C222.7 697.4 226.9 699.2 230.1 700.6C233.3 702.0 236.2 704.1 238.7 705.5C241.2 706.9 242.2 708.2 245.0 708.7C247.8 709.2 251.8 708.5 255.7 708.5C259.6 708.5 264.9 708.3 268.5 708.5C272.1 708.7 274.2 709.5 277.0 709.8C279.8 710.1 283.2 710.6 285.5 710.2C287.8 709.9 287.7 708.8 290.7 707.7C293.7 706.6 300.2 704.2 303.4 703.8C306.6 703.4 306.6 705.5 309.8 705.5C313.0 705.5 318.7 704.4 322.6 703.8C326.5 703.2 329.8 703.5 333.3 702.1C336.9 700.7 340.3 698.0 343.9 695.3C347.4 692.6 351.1 687.8 354.6 685.7C358.2 683.6 361.6 683.3 365.2 682.5C368.8 681.7 372.3 681.3 375.9 681.0C379.4 680.7 383.3 681.1 386.5 680.8C389.7 680.4 392.2 678.5 395.1 678.9C398.0 679.2 400.8 681.4 403.6 682.9C406.4 684.4 409.3 686.9 412.1 687.8C414.9 688.7 417.4 688.9 420.6 688.5C423.8 688.1 427.8 686.4 431.3 685.7C434.9 685.0 438.0 684.6 441.9 684.2C445.8 683.8 451.5 683.8 454.7 683.2C457.9 682.6 459.0 681.9 461.1 680.4C463.2 678.9 464.6 676.8 467.5 674.4C470.4 672.0 474.6 668.4 478.2 666.1C481.8 663.8 485.2 662.4 488.8 660.6C492.4 658.8 495.9 657.4 499.5 655.5C503.1 653.6 506.6 650.9 510.1 649.5C513.6 648.1 517.2 647.2 520.8 647.4C524.3 647.6 528.6 650.6 531.4 650.6C534.2 650.6 535.7 648.7 537.8 647.4C539.9 646.1 541.7 644.3 544.2 642.7C546.7 641.1 549.9 639.6 552.7 637.8C555.6 636.0 557.9 633.4 561.3 632.0C564.6 630.6 569.1 630.5 572.8 629.3C576.5 628.1 580.2 626.0 583.4 624.6C586.6 623.2 589.7 621.1 592.0 620.7C594.3 620.3 595.2 620.8 597.3 622.4C599.4 624.0 601.7 627.9 604.7 630.3C607.7 632.7 611.8 634.4 615.4 636.7C619.0 639.0 622.5 641.4 626.1 644.2C629.7 647.1 633.5 651.1 636.7 653.8C639.9 656.4 642.4 657.1 645.2 660.1C648.1 663.1 650.9 669.0 653.8 671.9C656.6 674.8 659.5 675.9 662.3 677.8C665.1 679.7 667.6 681.7 670.8 683.2C674.0 684.7 677.6 686.0 681.5 686.8C685.4 687.6 690.0 687.2 694.2 687.8C698.5 688.4 703.5 690.1 707.0 690.4C710.5 690.6 712.3 688.7 715.5 689.3C718.7 689.9 722.6 692.5 726.2 694.2C729.8 695.9 733.4 698.4 736.9 699.6C740.4 700.8 744.3 701.2 747.5 701.3C750.7 701.4 752.8 700.6 756.0 700.0C759.2 699.4 763.2 698.7 766.7 697.4C770.2 696.1 773.8 694.5 777.3 692.1C780.8 689.7 784.1 685.9 788.0 683.2C791.9 680.5 797.2 679.1 800.8 676.1C804.3 673.1 806.1 668.7 809.3 665.5C812.5 662.3 816.8 660.0 820.0 656.9C823.2 653.8 826.0 649.5 828.5 646.7C831.0 643.9 832.8 642.8 834.9 639.9C837.0 637.0 839.0 633.0 841.3 629.3C843.6 625.6 846.0 621.3 848.5 617.5C851.0 613.7 853.9 608.5 856.0 606.5C858.1 604.5 858.6 605.4 861.3 605.8C864.0 606.2 868.5 607.9 872.0 609.0C875.5 610.1 879.1 610.2 882.6 612.2C886.1 614.2 889.8 615.9 893.3 620.7C896.8 625.5 900.3 634.6 903.9 641.0C907.5 647.4 911.4 655.4 914.6 659.1C917.8 662.8 920.3 662.5 923.1 663.3C925.9 664.1 928.4 663.6 931.6 663.8C934.8 664.0 938.8 664.8 942.3 664.4C945.8 664.0 949.0 663.0 952.9 661.2C956.8 659.4 961.4 655.2 965.7 653.8C970.0 652.4 974.2 652.5 978.5 652.7C982.8 652.9 987.0 653.7 991.3 654.8C995.6 655.9 999.8 657.8 1004.1 659.1C1008.4 660.5 1012.6 661.8 1016.9 662.9C1021.1 664.0 1025.3 665.5 1029.6 665.9C1033.8 666.3 1038.1 665.0 1042.4 665.5C1046.7 666.0 1051.7 668.9 1055.2 668.7C1058.8 668.5 1060.9 666.0 1063.7 664.4C1066.5 662.8 1069.1 661.9 1072.3 659.1C1075.5 656.3 1079.0 651.1 1082.9 647.4C1086.8 643.7 1091.6 640.0 1095.7 636.7C1099.8 633.5 1104.6 629.5 1107.7 627.9C1110.8 626.3 1112.1 626.8 1114.3 627.3C1116.5 627.8 1118.3 629.2 1121.0 631.1C1123.7 633.0 1127.4 635.4 1130.6 638.8C1133.8 642.1 1137.0 647.9 1140.2 651.2C1143.4 654.6 1146.8 656.7 1149.7 658.9C1152.6 661.1 1154.9 663.3 1157.4 664.6C1160.0 665.9 1162.3 665.9 1165.0 666.5C1167.7 667.1 1171.1 668.2 1173.7 668.1C1176.3 668.0 1177.9 666.4 1180.4 665.6C1182.9 664.8 1187.2 663.8 1188.6 663.4" fill="none" stroke="#fdd835" stroke-width="1.3" stroke-linejoin="round" stroke-linecap="round"/>
<g shape-rendering="crispEdges" fill="none" stroke="#e0e3eb" stroke-width="1">
<line x1="10" x2="1285" y1="559.5" y2="559.5"/>
<line x1="1285.5" x2="1285.5" y1="27" y2="766"/>
<line x1="10" x2="1351" y1="738.5" y2="738.5"/>
</g>
<text x="1293.8" y="79.8" textLength="42.3" lengthAdjust="spacingAndGlyphs" stroke="#131722">0.42000</text>
<text x="1293.8" y="111.8" textLength="42.3" lengthAdjust="spacingAndGlyphs" stroke="#131722">0.40000</text>
<text x="1293.8" y="142.8" textLength="42.3" lengthAdjust="spacingAndGlyphs" stroke="#131722">0.38000</text>
<text x="1293.8" y="173.8" textLength="42.3" lengthAdjust="spacingAndGlyphs" stroke="#131722">0.36000</text>
<text x="1293.8" y="205.8" textLength="42.3" lengthAdjust="spacingAndGlyphs" stroke="#131722">0.34000</text>
<text x="1293.8" y="236.8" textLength="42.3" lengthAdjust="spacingAndGlyphs" stroke="#131722">0.32000</text>
<text x="1293.8" y="268.8" textLength="42.3" lengthAdjust="spacingAndGlyphs" stroke="#131722">0.30000</text>
<text x="1293.8" y="299.8" textLength="42.3" lengthAdjust="spacingAndGlyphs" stroke="#131722">0.28000</text>
<text x="1293.8" y="330.8" textLength="42.3" lengthAdjust="spacingAndGlyphs" stroke="#131722">0.26000</text>
<text x="1293.8" y="425.8" textLength="42.3" lengthAdjust="spacingAndGlyphs" stroke="#131722">0.20000</text>
<text x="1293.8" y="456.8" textLength="42.3" lengthAdjust="spacingAndGlyphs" stroke="#131722">0.18000</text>
<text x="1293.8" y="487.8" textLength="42.3" lengthAdjust="spacingAndGlyphs" stroke="#131722">0.16000</text>
<text x="1293.8" y="519.8" textLength="42.3" lengthAdjust="spacingAndGlyphs" stroke="#131722">0.14000</text>
<text x="1293.8" y="550.8" textLength="42.3" lengthAdjust="spacingAndGlyphs" stroke="#131722">0.12000</text>
<text x="1293.8" y="587.2" textLength="29.7" lengthAdjust="spacingAndGlyphs" stroke="#131722">80.00</text>
<text x="1293.8" y="641.2" textLength="29.7" lengthAdjust="spacingAndGlyphs" stroke="#131722">60.00</text>
<text x="1293.8" y="695.2" textLength="29.7" lengthAdjust="spacingAndGlyphs" stroke="#131722">40.00</text>
<rect x="1289.5" y="30.5" width="58" height="27" rx="4" fill="#fff" stroke="#f0f1f2" stroke-width="1.5"/>
<text x="1298.5" y="49" textLength="27" lengthAdjust="spacingAndGlyphs" stroke="#131722">USDT</text>
<path d="M1286 272 H1340 a2 2 0 0 1 2 2 V287 a2 2 0 0 1 -2 2 H1286 Z" fill="#0000ff"/>
<text x="1294" y="284.8" fill="#fff" stroke="#fff" stroke-width="0.35" text-anchor="start" textLength="42" lengthAdjust="spacingAndGlyphs" >0.29000</text>
<path d="M1285.2 328.3 H1221 a2 2 0 0 0 -2 2 V342.7 a2 2 0 0 0 2 2 H1285.2 Z" fill="#26a69a"/>
<text x="1223.3" y="340.8" fill="#fff" stroke="#fff" stroke-width="0.35" text-anchor="start" textLength="56.6" lengthAdjust="spacingAndGlyphs" >DOGEUSDT</text>
<path d="M1286 328.3 H1343.8 a2 2 0 0 1 2 2 V370.6 a2 2 0 0 1 -2 2 H1286 Z" fill="#26a69a"/>
<text x="1294" y="340.8" fill="#fff" stroke="#fff" stroke-width="0.35" text-anchor="start" textLength="42" lengthAdjust="spacingAndGlyphs" >0.25426</text>
<text x="1294" y="354.8" fill="#fff" stroke="#fff" stroke-width="0.35" text-anchor="start" textLength="43.3" lengthAdjust="spacingAndGlyphs" >−35.60%</text>
<text x="1294" y="368.8" fill="#fff" stroke="#fff" stroke-width="0.35" text-anchor="start" textLength="46.5" lengthAdjust="spacingAndGlyphs" fill-opacity="0.75">09:28:05</text>
<path d="M1285.2 373.2 H1256.2 a2 2 0 0 0 -2 2 V387.59999999999997 a2 2 0 0 0 2 2 H1285.2 Z" fill="#2962ff"/>
<text x="1259" y="386" fill="#fff" stroke="#fff" stroke-width="0.35" text-anchor="start" textLength="22.2" lengthAdjust="spacingAndGlyphs" >EMA</text>
<path d="M1286 373.2 H1340 a2 2 0 0 1 2 2 V387.59999999999997 a2 2 0 0 1 -2 2 H1286 Z" fill="#2962ff"/>
<text x="1294" y="386" fill="#fff" stroke="#fff" stroke-width="0.35" text-anchor="start" textLength="42" lengthAdjust="spacingAndGlyphs" >0.24956</text>
<path d="M1285.2 390.3 H1237.3 a2 2 0 0 0 -2 2 V404.7 a2 2 0 0 0 2 2 H1285.2 Z" fill="#f23645"/>
<text x="1240" y="403" fill="#fff" stroke="#fff" stroke-width="0.35" text-anchor="start" textLength="41.2" lengthAdjust="spacingAndGlyphs" >SMA:MA</text>
<path d="M1286 390.3 H1340 a2 2 0 0 1 2 2 V404.7 a2 2 0 0 1 -2 2 H1286 Z" fill="#f23645"/>
<text x="1294" y="403" fill="#fff" stroke="#fff" stroke-width="0.35" text-anchor="start" textLength="42" lengthAdjust="spacingAndGlyphs" >0.24102</text>
<path d="M1286 407.3 H1340 a2 2 0 0 1 2 2 V421.7 a2 2 0 0 1 -2 2 H1286 Z" fill="#0000ff"/>
<text x="1294" y="420" fill="#fff" stroke="#fff" stroke-width="0.35" text-anchor="start" textLength="42" lengthAdjust="spacingAndGlyphs" >0.21000</text>
<path d="M1286 507 H1340 a2 2 0 0 1 2 2 V522 a2 2 0 0 1 -2 2 H1286 Z" fill="#0000ff"/>
<text x="1294" y="519.8" fill="#fff" stroke="#fff" stroke-width="0.35" text-anchor="start" textLength="42" lengthAdjust="spacingAndGlyphs" >0.14000</text>
<path d="M1285.2 648 H1262.3 a2 2 0 0 0 -2 2 V662.5 a2 2 0 0 0 2 2 H1285.2 Z" fill="#7e57c2"/>
<text x="1265" y="660.5" fill="#fff" stroke="#fff" stroke-width="0.35" text-anchor="start" textLength="16" lengthAdjust="spacingAndGlyphs" >RSI</text>
<path d="M1286 648 H1327 a2 2 0 0 1 2 2 V662.5 a2 2 0 0 1 -2 2 H1286 Z" fill="#7e57c2"/>
<text x="1294" y="660.5" fill="#fff" stroke="#fff" stroke-width="0.35" text-anchor="start" textLength="29.5" lengthAdjust="spacingAndGlyphs" >52.70</text>
<path d="M1285.2 665.3 H1208.2 a2 2 0 0 0 -2 2 V679.8 a2 2 0 0 0 2 2 H1285.2 Z" fill="#fdd835"/>
<text x="1211" y="678" fill="#131722" stroke="#131722" stroke-width="0.35" text-anchor="start" textLength="70" lengthAdjust="spacingAndGlyphs" >RSI-based MA</text>
<path d="M1286 665.3 H1327 a2 2 0 0 1 2 2 V679.8 a2 2 0 0 1 -2 2 H1286 Z" fill="#fdd835"/>
<text x="1294" y="678" fill="#131722" stroke="#131722" stroke-width="0.35" text-anchor="start" textLength="29.5" lengthAdjust="spacingAndGlyphs" >49.96</text>
<text x="125.5" y="756" text-anchor="middle" stroke="#131722">Feb</text>
<text x="244.5" y="756" text-anchor="middle" stroke="#131722">Mar</text>
<text x="377.5" y="756" text-anchor="middle" stroke="#131722">Apr</text>
<text x="505.5" y="756" text-anchor="middle" stroke="#131722">May</text>
<text x="637.5" y="756" text-anchor="middle" stroke="#131722">Jun</text>
<text x="765.5" y="756" text-anchor="middle" stroke="#131722">Jul</text>
<text x="898.5" y="756" text-anchor="middle" stroke="#131722">Aug</text>
<text x="1030.5" y="756" text-anchor="middle" stroke="#131722">Sep</text>
<text x="1158.5" y="756" text-anchor="middle" stroke="#131722">Oct</text>
<rect x="10.05" y="27.15" width="1340.85" height="738.45" fill="none" stroke="#f1f2f4" stroke-width="1.7"/>
<g font-size="12.5">
<text x="10.3" y="18.8" textLength="58.9" lengthAdjust="spacingAndGlyphs" stroke="#131722">ranadagger</text>
<text x="74.3" y="18.8" textLength="40.2" lengthAdjust="spacingAndGlyphs" stroke="#131722">created</text>
<text x="119.5" y="18.8" textLength="22.3" lengthAdjust="spacingAndGlyphs" stroke="#131722">with</text>
<text x="146.6" y="18.8" textLength="90.7" lengthAdjust="spacingAndGlyphs" stroke="#131722">TradingView.com,</text>
<text x="245.7" y="18.8" textLength="16.2" lengthAdjust="spacingAndGlyphs" stroke="#131722">Oct</text>
<text x="267.5" y="18.8" textLength="15.1" lengthAdjust="spacingAndGlyphs" stroke="#131722">08,</text>
<text x="288.4" y="18.8" textLength="23.8" lengthAdjust="spacingAndGlyphs" stroke="#131722">2025</text>
<text x="316.9" y="18.8" textLength="24.3" lengthAdjust="spacingAndGlyphs" stroke="#131722">14:31</text>
<text x="347.6" y="18.8" textLength="23.2" lengthAdjust="spacingAndGlyphs" stroke="#131722">UTC</text>
</g>
<text x="18.4" y="45.8" fill="#131722" textLength="47.9" lengthAdjust="spacingAndGlyphs" stroke="#131722">Dogecoin</text>
<text x="74.7" y="45.8" text-anchor="middle" stroke="#131722">/</text>
<text x="81.5" y="45.8" fill="#131722" textLength="46.2" lengthAdjust="spacingAndGlyphs" stroke="#131722">TetherUS</text>
<text x="134.1" y="46.599999999999994" text-anchor="middle" font-size="16" font-weight="bold" stroke="#131722">·</text>
<text x="141.3" y="45.8" fill="#131722" textLength="12.2" lengthAdjust="spacingAndGlyphs" stroke="#131722">1D</text>
<text x="159.9" y="46.599999999999994" text-anchor="middle" font-size="16" font-weight="bold" stroke="#131722">·</text>
<text x="165.5" y="45.8" fill="#131722" textLength="40.4" lengthAdjust="spacingAndGlyphs" stroke="#131722">Binance</text>
<text x="214.9" y="45.8" fill="#131722" textLength="7.2" lengthAdjust="spacingAndGlyphs" stroke="#131722">O</text>
<text x="223.1" y="45.8" fill="#26a69a" textLength="40.4" lengthAdjust="spacingAndGlyphs" stroke="#26a69a">0.24681</text>
<text x="272.8" y="45.8" fill="#131722" textLength="6.5" lengthAdjust="spacingAndGlyphs" stroke="#131722">H</text>
<text x="279.7" y="45.8" fill="#26a69a" textLength="41.9" lengthAdjust="spacingAndGlyphs" stroke="#26a69a">0.25678</text>
<text x="329.9" y="45.8" fill="#131722" textLength="5" lengthAdjust="spacingAndGlyphs" stroke="#131722">L</text>
<text x="335.5" y="45.8" fill="#26a69a" textLength="41.2" lengthAdjust="spacingAndGlyphs" stroke="#26a69a">0.24291</text>
<text x="385.1" y="45.8" fill="#131722" textLength="6.5" lengthAdjust="spacingAndGlyphs" stroke="#131722">C</text>
<text x="392.3" y="45.8" fill="#26a69a" textLength="41.2" lengthAdjust="spacingAndGlyphs" stroke="#26a69a">0.25426</text>
<text x="441.7" y="45.8" fill="#26a69a" textLength="47.6" lengthAdjust="spacingAndGlyphs" stroke="#26a69a">+0.00744</text>
<text x="494.9" y="45.8" fill="#26a69a" textLength="43.7" lengthAdjust="spacingAndGlyphs" stroke="#26a69a">(+3.01%)</text>
<text x="18.4" y="63" fill="#131722" textLength="21.5" lengthAdjust="spacingAndGlyphs" stroke="#131722">EMA</text>
<text x="44.4" y="63" fill="#131722" textLength="19.8" lengthAdjust="spacingAndGlyphs" stroke="#131722">(20,</text>
<text x="68.7" y="63" fill="#131722" textLength="30.7" lengthAdjust="spacingAndGlyphs" stroke="#131722">close)</text>
<text x="107.5" y="63" fill="#2962ff" textLength="41.8" lengthAdjust="spacingAndGlyphs" stroke="#2962ff">0.24956</text>
<text x="18.1" y="79.8" fill="#131722" textLength="21.5" lengthAdjust="spacingAndGlyphs" stroke="#131722">SMA</text>
<text x="43.9" y="79.8" fill="#131722" textLength="18.6" lengthAdjust="spacingAndGlyphs" stroke="#131722">(50,</text>
<text x="68.2" y="79.8" fill="#131722" textLength="31.2" lengthAdjust="spacingAndGlyphs" stroke="#131722">close)</text>
<text x="107" y="79.8" fill="#f23645" textLength="41.7" lengthAdjust="spacingAndGlyphs" stroke="#f23645">0.24102</text>
<text x="18.4" y="578.8" fill="#131722" textLength="15.1" lengthAdjust="spacingAndGlyphs" stroke="#131722">RSI</text>
<text x="38.5" y="578.8" fill="#131722" textLength="17.3" lengthAdjust="spacingAndGlyphs" stroke="#131722">(14,</text>
<text x="62.9" y="578.8" fill="#131722" textLength="30.4" lengthAdjust="spacingAndGlyphs" stroke="#131722">close)</text>
<text x="102.7" y="578.8" fill="#7e57c2" textLength="29" lengthAdjust="spacingAndGlyphs" stroke="#7e57c2">52.70</text>
<text x="138.5" y="578.8" fill="#fdd835" textLength="29.8" lengthAdjust="spacingAndGlyphs" stroke="#fdd835">49.96</text>
<circle cx="1188.5" cy="546.5" r="11.8" fill="#fff"/>
<path d="M1197.73 543.50 A9.7 9.7 0 1 1 1191.34 537.22" fill="none" stroke="#673ab7" stroke-width="1.6"/>
<path d="M1190.7 541.2 L1184.5 546.6 L1188.1 547.05 L1185.2 551.7 L1192.7 546.3 L1189.1 545.8 Z" fill="#673ab7"/>
<circle cx="1195.4" cy="539.5" r="2.6" fill="#f23645"/>
<g transform="translate(12,784.8) scale(0.845)" fill="#131722"><path d="M14 22H7V11H0V4h14v18zM28 22h-8l7.5-18h8L28 22z"/><circle cx="20" cy="8" r="4"/></g>
<text x="49" y="802.9" font-size="20.5" font-weight="bold" fill="#131722" stroke="none" textLength="120.7" lengthAdjust="spacingAndGlyphs">TradingView</text>
</svg>
</body></html>
